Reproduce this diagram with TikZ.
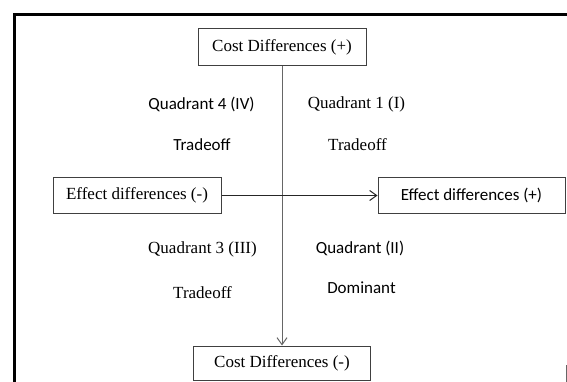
\documentclass[tikz,border=0pt]{standalone}
\usepackage{fontspec}
\setmainfont{Liberation Serif}
\newfontfamily\calib{Carlito}
\usetikzlibrary{arrows.meta}

\begin{document}
\begin{tikzpicture}[x=1pt,y=-1pt,
	box/.style={shape=rectangle,draw=black!75,line width=1pt,inner sep=0pt,minimum height=35pt},
	serif/.style={font=\fontsize{17}{19}\selectfont},
	sans/.style={font=\calib\fontsize{17}{19}\selectfont},
	axis/.style={line width=1pt,-{Straight Barb[length=7pt,width=10pt]}}]
			\useasboundingbox (0,0) rectangle (567,382);
			% frame
			\draw[line width=3pt] (14.5,382) -- (14.5,14.5) -- (567,14.5);
			\draw[black!60,line width=1pt] (566,365) -- (566,382);
			
			\node[box,serif,minimum width=168pt,minimum height=37pt] (costpos) at (282,47.5) {Cost Differences (+)};
			\node[box,serif,minimum width=177pt,minimum height=34pt] (costneg) at (282,363) {Cost Differences (-)};
			\node[box,serif,minimum width=168pt] (effneg) at (137,195.5) {Effect differences (-)};
			\node[box,sans,minimum width=187pt] (effpos) at (471.5,195.5) {Effect differences (+)};
			
			\node[sans] (quadIV) at (201.5,104) {Quadrant 4 (IV)};
			\node[sans] (tradeIV) at (202,145) {Tradeoff};
			\node[serif] (quadI) at (356.5,104) {Quadrant 1 (I)};
			\node[serif] (tradeI) at (357.5,145) {Tradeoff};
			\node[serif] (quadIII) at (202.5,249) {Quadrant 3 (III)};
			\node[serif] (tradeIII) at (202.5,293) {Tradeoff};
			\node[sans] (quadII) at (360,248) {Quadrant (II)};
			\node[sans] (domII) at (361.5,288) {Dominant};
			
			%\path [axis] (costneg) edge (costpos);
			\path [axis, black!60] (costpos) edge (costneg);
			\path [axis, black!85] (effneg) edge (effpos);
			\end{tikzpicture}
\end{document}
